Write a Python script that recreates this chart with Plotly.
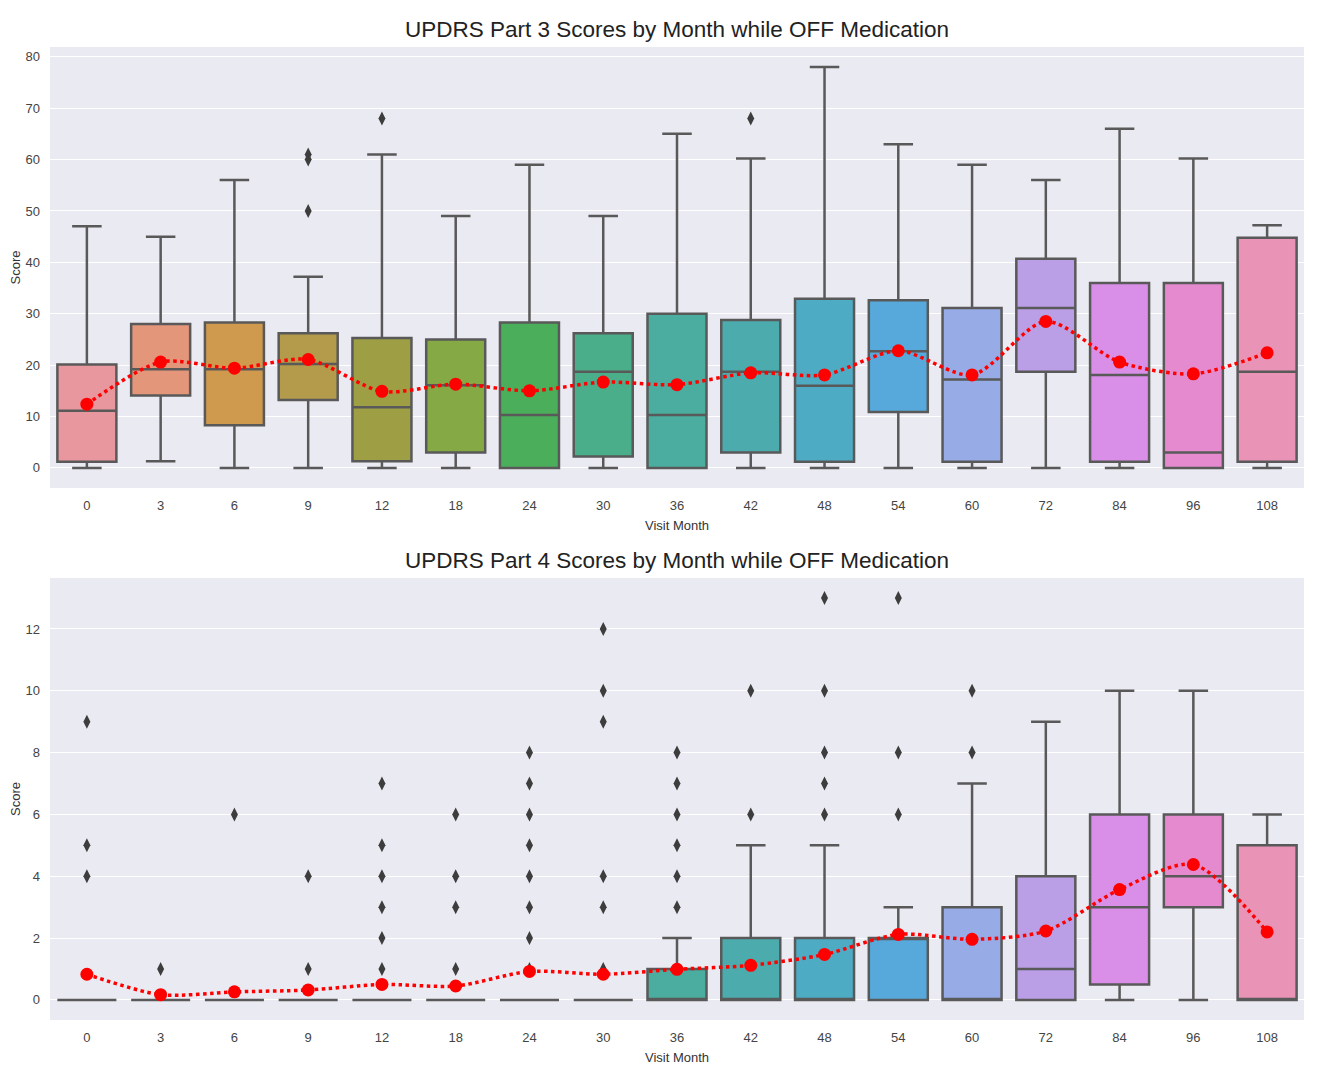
import plotly.graph_objects as go

months = ["0", "3", "6", "9", "12", "18", "24", "30", "36", "42", "48", "54", "60", "72", "84", "96", "108"]
colors = ["#E8979F", "#E4967B", "#D09A4E", "#B49A4B", "#9E9E45", "#84A945", "#4BAE5A", "#4BAE8A",
          "#4AAD9F", "#4BABAD", "#4EABC4", "#56A9DA", "#97ABE6", "#BB9FE6", "#D98FE7", "#E68ACF", "#E993B6"]

# Part 3 statistics
p3_low = [0, 1.3, 0, 0, 0, 0, 0, 0, 0, 0, 0, 0, 0, 0, 0, 0, 0]
p3_q1 = [1.2, 14.1, 8.3, 13.2, 1.3, 3.0, 0, 2.2, 0, 3.0, 1.2, 10.9, 1.2, 18.7, 1.2, 0, 1.2]
p3_med = [11.1, 19.2, 19.2, 20.2, 11.8, 16.1, 10.3, 18.7, 10.3, 18.7, 16.0, 22.7, 17.2, 31.1, 18.1, 3.0, 18.7]
p3_q3 = [20.1, 28.0, 28.3, 26.2, 25.3, 25.0, 28.3, 26.2, 30.0, 28.8, 32.9, 32.6, 31.1, 40.7, 36.0, 36.0, 44.8]
p3_high = [47, 45, 56, 37.2, 61, 49, 59, 49, 65, 60.2, 78, 63, 59, 56, 66, 60.2, 47.2]
p3_mean = [12.4, 20.6, 19.4, 21.1, 14.9, 16.3, 15.0, 16.7, 16.2, 18.5, 18.1, 22.8, 18.1, 28.5, 20.6, 18.3, 22.4]
p3_out_x = ["9", "9", "9", "12", "42"]
p3_out_y = [61, 60, 50, 68, 68]

# Part 4 statistics
p4_low = [0, 0, 0, 0, 0, 0, 0, 0, 0, 0, 0, 0, 0, 0, 0, 0, 0]
p4_q1 = [0, 0, 0, 0, 0, 0, 0, 0, 0, 0, 0, 0, 0, 0, 0.5, 3, 0]
p4_med = [0, 0, 0, 0, 0, 0, 0, 0, 0, 0, 0, 2, 0, 1, 3, 4, 0]
p4_q3 = [0, 0, 0, 0, 0, 0, 0, 0, 1, 2, 2, 2, 3, 4, 6, 6, 5]
p4_high = [0, 0, 0, 0, 0, 0, 0, 0, 2, 5, 5, 3, 7, 9, 10, 10, 6]
p4_mean = [0.83, 0.17, 0.26, 0.32, 0.5, 0.45, 0.92, 0.83, 0.99, 1.12, 1.47, 2.12, 1.96, 2.23, 3.57, 4.38, 2.2]
p4_out_x = ["0", "0", "0", "3", "6", "9", "9",
            "12", "12", "12", "12", "12", "12",
            "18", "18", "18", "18",
            "24", "24", "24", "24", "24", "24", "24", "24",
            "30", "30", "30", "30", "30", "30",
            "36", "36", "36", "36", "36", "36",
            "42", "42",
            "48", "48", "48", "48", "48",
            "54", "54", "54",
            "60", "60"]
p4_out_y = [9, 5, 4, 1, 6, 4, 1,
            7, 5, 4, 3, 2, 1,
            6, 4, 3, 1,
            8, 7, 6, 5, 4, 3, 2, 1,
            12, 10, 9, 4, 3, 1,
            8, 7, 6, 5, 4, 3,
            10, 6,
            13, 10, 8, 7, 6,
            13, 8, 6,
            10, 8]

titles = ["UPDRS Part 3 Scores by Month while OFF Medication",
          "UPDRS Part 4 Scores by Month while OFF Medication"]

BG = "#EAEAF2"
LINE = "#595959"
FONT = "Liberation Sans, Arial, sans-serif"

fig = go.Figure()

panels = [
    (p3_low, p3_q1, p3_med, p3_q3, p3_high, p3_mean, p3_out_x, p3_out_y, "x", "y"),
    (p4_low, p4_q1, p4_med, p4_q3, p4_high, p4_mean, p4_out_x, p4_out_y, "x2", "y2"),
]

for low, q1, med, q3, high, mean, ox, oy, xa, ya in panels:
    for i, m in enumerate(months):
        fig.add_trace(go.Box(
            x=[m], q1=[q1[i]], median=[med[i]], q3=[q3[i]],
            lowerfence=[low[i]], upperfence=[high[i]],
            fillcolor=colors[i], line=dict(color=LINE, width=2.5),
            width=0.8, whiskerwidth=0.5, boxpoints=False,
            showlegend=False, hoverinfo="skip", xaxis=xa, yaxis=ya,
        ))
    fig.add_trace(go.Scatter(
        x=ox, y=oy, mode="markers",
        marker=dict(symbol="diamond-tall", size=10, color="#3D3D3D"),
        showlegend=False, xaxis=xa, yaxis=ya,
    ))
    fig.add_trace(go.Scatter(
        x=months, y=mean, mode="lines+markers",
        line=dict(color="red", width=3.5, dash="dot", shape="spline", smoothing=0.8),
        marker=dict(size=13, color="red"),
        showlegend=False, xaxis=xa, yaxis=ya,
    ))

axis_common = dict(
    showgrid=False, zeroline=False, showline=False, ticks="",
    tickfont=dict(family=FONT, size=13, color="#444444"),
    ticklabelstandoff=8,
    type="category", categoryorder="array", categoryarray=months,
    range=[-0.5, 16.5],
)
xtitle = dict(text="Visit Month", font=dict(family=FONT, size=13, color="#333333"), standoff=8)
yaxis_common = dict(
    showgrid=True, gridcolor="white", gridwidth=1.2, zeroline=False, showline=False, ticks="",
    tickfont=dict(family=FONT, size=13, color="#444444"),
    ticklabelstandoff=9,
    title=dict(text="Score", font=dict(family=FONT, size=13, color="#333333"), standoff=16),
)

fig.update_layout(
    width=1315, height=1061,
    margin=dict(l=42, r=19, t=39, b=49, autoexpand=False),
    paper_bgcolor="white", plot_bgcolor=BG,
    boxmode="overlay",
    xaxis=dict(axis_common, domain=[0, 1], anchor="y", title=xtitle),
    yaxis=dict(yaxis_common, domain=[0.5468, 1], anchor="x", range=[-3.9, 81.9],
               tickvals=[0, 10, 20, 30, 40, 50, 60, 70, 80]),
    xaxis2=dict(axis_common, domain=[0, 1], anchor="y2", title=xtitle),
    yaxis2=dict(yaxis_common, domain=[0, 0.4543], anchor="x2", range=[-0.65, 13.65],
                tickvals=[0, 2, 4, 6, 8, 10, 12]),
    annotations=[
        dict(text=titles[0], xref="paper", yref="paper", x=0.5, y=1.0, yanchor="bottom",
             yshift=3, showarrow=False, font=dict(family=FONT, size=22.5, color="#222222")),
        dict(text=titles[1], xref="paper", yref="paper", x=0.5, y=0.4543, yanchor="bottom",
             yshift=3, showarrow=False, font=dict(family=FONT, size=22.5, color="#222222")),
    ],
)

fig.write_html("out.html")
